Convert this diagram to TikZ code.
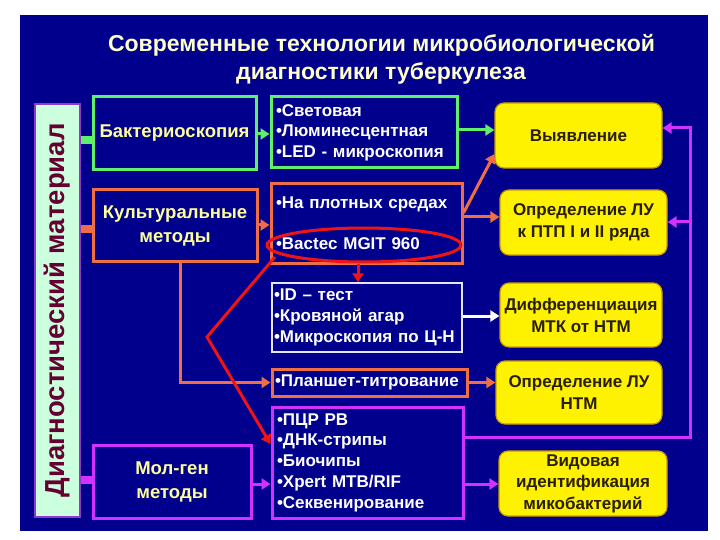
\documentclass[tikz,border=0pt]{standalone}
\usepackage{fontspec}
\setmainfont{Liberation Sans}
\usepackage{graphicx}
\usetikzlibrary{arrows.meta,calc,shapes.geometric}
\definecolor{bg}{RGB}{0,0,140}
\definecolor{grn}{RGB}{95,240,110}
\definecolor{org}{RGB}{240,110,70}
\definecolor{mag}{RGB}{210,50,255}
\definecolor{hdy}{RGB}{255,255,153}
\definecolor{ttl}{RGB}{255,255,204}
\definecolor{ybord}{RGB}{204,153,0}
\definecolor{ytext}{RGB}{40,30,0}
\definecolor{barfill}{RGB}{204,255,221}
\definecolor{bartext}{RGB}{102,0,51}
\definecolor{barborder}{RGB}{140,60,200}
\definecolor{idborder}{RGB}{230,230,255}
\definecolor{redl}{RGB}{240,20,20}
\newcommand\fTtl{\fontsize{23}{28}\selectfont\bfseries}
\newcommand\fHd{\fontsize{18.5}{24}\selectfont\bfseries}
\newcommand\fLst{\fontsize{17}{20.5}\selectfont\bfseries}
\newcommand\fYel{\fontsize{17}{22}\selectfont\bfseries}
\tikzset{
  box/.style={draw, line width=3pt, fill=bg, inner sep=0pt},
  hdbox/.style={box, text=hdy, font=\fHd, align=center},
  lstbox/.style={box, text=white, font=\fLst, align=left, inner xsep=5pt},
  ybox/.style={draw=ybord, line width=1.2pt, fill=yellow, rounded corners=9pt,
    text=ytext, font=\fYel, align=center, inner sep=0pt},
  arr/.style={line width=3pt, -{Triangle[length=9pt,width=11pt]}},
  stub/.style={line width=8pt},
  ttlnode/.style={text=ttl, font=\fTtl, anchor=base}
}
\begin{document}
\begin{tikzpicture}[x=1pt,y=-1pt]
\useasboundingbox (0,0) rectangle (720,540);
\fill[white] (0,0) rectangle (720,540);
\fill[bg] (20,15) rectangle (708,531);

% title
\node[ttlnode] (t1) at (381.5,52) {Современные технологии микробиологической};
\node[ttlnode] (t2) at (381,80) {диагностики туберкулеза};

% left bar
\node[draw=barborder, line width=1.5pt, fill=barfill, text=bartext,
  minimum width=45pt, minimum height=413pt, inner sep=0pt,
  font=\fontsize{27.5}{30}\selectfont\bfseries] (bar) at (57.5,310.5)
  {\rotatebox{90}{Диагностический материал}};

% method boxes
\node[hdbox, draw=grn, minimum width=163pt, minimum height=73pt] (bact) at (174.5,133.5) {Бактериоскопия};
\node[hdbox, draw=org, minimum width=164pt, minimum height=71pt] (cult) at (175,225.5) {Культуральные\\методы};
\node[hdbox, draw=mag, minimum width=158pt, minimum height=73pt] (molgen) at (172,481.5) {Мол-ген\\методы};

% list boxes
\node[lstbox, draw=grn, text width=176pt, minimum height=71pt] (bactlist) at (364,132.5)
  {•Световая\\•Люминесцентная\\•LED - микроскопия};
\node[lstbox, draw=org, text width=181pt, minimum height=79pt] (cultlist) at (366.5,223.5)
  {•На плотных средах\\[20.5pt]•Bactec MGIT 960};
\node[lstbox, draw=idborder, line width=1.5pt, text width=186pt, minimum height=69pt,
  inner xsep=2pt, font=\fontsize{17}{21}\selectfont\bfseries] (idbox) at (367,317.5)
  {•ID – тест\\•Кровяной агар\\\mbox{•Микроскопия по Ц-Н}};
\node[lstbox, draw=org, text width=189pt, minimum height=27pt, inner xsep=3pt] (plansh) at (369.5,382.5)
  {•Планшет-титрование};
\node[lstbox, draw=mag, text width=181pt, minimum height=111pt,
  font=\fontsize{17}{20.75}\selectfont\bfseries] (mollist) at (367.5,462.5)
  {•ПЦР РВ\\•ДНК-стрипы\\•Биочипы\\•Xpert MTB/RIF\\•Секвенирование};

% result boxes
\node[ybox, minimum width=167pt, minimum height=65pt] (vyyav) at (578.5,135.5) {Выявление};
\node[ybox, minimum width=167pt, minimum height=65pt] (oprlu) at (583.5,222.5) {Определение ЛУ\\к ПТП I и II ряда};
\node[ybox, minimum width=162pt, minimum height=64pt] (diff) at (581,315) {Дифференциация\\МТК от НТМ};
\node[ybox, minimum width=166pt, minimum height=63pt] (oprntm) at (579,392.5) {Определение ЛУ\\НТМ};
\node[ybox, minimum width=168pt, minimum height=65pt,
  font=\fontsize{17}{21.5}\selectfont\bfseries] (vid) at (583,483.5) {Видовая\\идентификация\\микобактерий};

% red ellipse
\node[draw=redl, line width=3pt, ellipse, minimum width=194pt, minimum height=34pt, inner sep=0pt] (ell) at (364,245) {};

% stubs from bar
\draw[stub, grn] (bar.east |- 0,140) -- (bact.west |- 0,140);
\draw[stub, org] (bar.east |- 0,229) -- (cult.west |- 0,229);
\draw[stub, mag] (bar.east |- 0,480) -- (molgen.west |- 0,480);

% green
\draw[arr, grn] (bact.east |- 0,134) -- (bactlist.west |- 0,134);
\draw[arr, grn] (bactlist.east |- 0,130) -- (vyyav.west |- 0,130);

% orange
\draw[arr, org] (cult.east |- 0,225) -- (cultlist.west |- 0,225);
\draw[arr, org] (cultlist.east |- 0,213) -- (vyyav.west |- 0,154);
\draw[arr, org] (cultlist.east |- 0,217) -- (oprlu.west |- 0,217);
\draw[arr, org] (cult.south -| 180,0) |- (plansh.west);
\draw[arr, org] (plansh.east) -- (oprntm.west |- plansh.east);

% white
\draw[arr, white] (idbox.east |- 0,316) -- (diff.west |- 0,316);

% magenta
\coordinate (mtop) at (690,128);
\coordinate (mmid) at (690,222);
\draw[arr, mag] (molgen.east |- 0,484) -- (mollist.west |- 0,484);
\draw[arr, mag] (mollist.east |- 0,437) -| (mtop) -- (vyyav.east |- mtop);
\draw[arr, mag] (mmid) -- (oprlu.east |- mmid);
\draw[arr, mag] (mollist.east |- 0,484) -- (vid.west |- 0,484);

% red
\coordinate (rz0) at (275,257);
\coordinate (rz1) at (207,337);
\draw[arr, redl] (rz0) -- (rz1) -- (mollist.west |- 0,444);
\draw[arr, redl] (ell.south -| 358,0) -- (idbox.north -| 358,0);
\end{tikzpicture}
\end{document}
